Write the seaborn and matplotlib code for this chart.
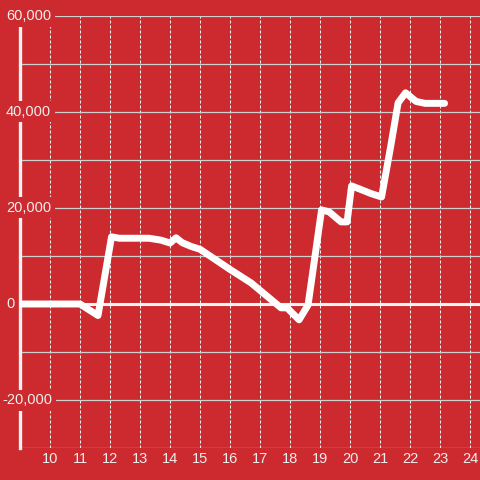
import matplotlib
matplotlib.use("Agg")
import matplotlib.pyplot as plt
import matplotlib.transforms as mtransforms
from matplotlib.ticker import FixedLocator
import seaborn as sns
import pandas as pd

hours = [9, 11, 11.6, 12.05, 12.3, 13.3, 13.7, 14.0, 14.2, 14.4, 14.7, 15.0,
         16.0, 16.7, 17.7, 17.9, 18.3, 18.6, 19.05, 19.3, 19.7, 19.9, 20.05,
         20.3, 20.7, 21.05, 21.35, 21.6, 21.85, 22.2, 22.5, 23.15]
values = [0, 0, -2400, 14000, 13700, 13700, 13300, 12700, 13800, 12800, 12000,
          11400, 7200, 4400, -800, -800, -3300, -200, 19600, 19200, 17100,
          17100, 24600, 24000, 23000, 22300, 32700, 41900, 44000, 42200,
          41800, 41800]
x_ticks = list(range(10, 25))
y_label_ticks = [-20000, 0, 20000, 40000, 60000]
y_grid_ticks = [-30000, -20000, -10000, 0, 10000, 20000, 30000, 40000, 50000, 60000]

BG = "#cc2a2e"
TXT = "#eeeeee"

sns.set_style("white")
plt.rcParams["font.family"] = ["Liberation Sans", "DejaVu Sans"]

fig = plt.figure(figsize=(4.8, 4.8), dpi=100, facecolor=BG)
ax = fig.add_axes([20 / 480, 32 / 480, 460 / 480, 432 / 480])
ax.set_facecolor(BG)

df = pd.DataFrame({"hour": hours, "value": values})
sns.lineplot(data=df, x="hour", y="value", ax=ax, color="white", lw=5,
             zorder=5, estimator=None, sort=False)
ax.axhline(0, color="#f4f4f4", lw=2.2, zorder=4)

ax.set_xlim(9, 24.33)
ax.set_ylim(-30000, 60000)
ax.set_axisbelow(True)

ax.xaxis.set_major_locator(FixedLocator(x_ticks))
ax.set_xticklabels([str(t) for t in x_ticks])
ax.yaxis.set_major_locator(FixedLocator(y_grid_ticks))
ax.set_yticklabels([])
ax.tick_params(axis="x", length=0, pad=3, labelsize=10.5, labelcolor=TXT)
ax.tick_params(axis="y", length=0, labelleft=False)

ax.grid(axis="x", color="#f2f2f2", lw=0.75, linestyle=(0, (2.9, 1.9)))
ax.grid(axis="y", color="#cfcfcf", lw=0.9, linestyle="-")

for s in ["top", "right", "bottom"]:
    ax.spines[s].set_visible(False)
ax.spines["left"].set_color("#f2f2f2")
ax.spines["left"].set_linewidth(2.4)
ax.spines["left"].set_zorder(2.5)

trans = mtransforms.blended_transform_factory(fig.transFigure, ax.transData)
for v in y_label_ticks:
    lab = f"{v:,.0f}"
    xpos = 6 / 480 if v >= 0 else 2 / 480
    ax.text(xpos, v, lab, transform=trans, ha="left", va="center",
            fontsize=10.5, color=TXT, zorder=3,
            bbox=dict(facecolor=BG, edgecolor="none", pad=2.5))

ax.set_xlabel("")
ax.set_ylabel("")
fig.savefig("out.png", dpi=100, facecolor=BG)
